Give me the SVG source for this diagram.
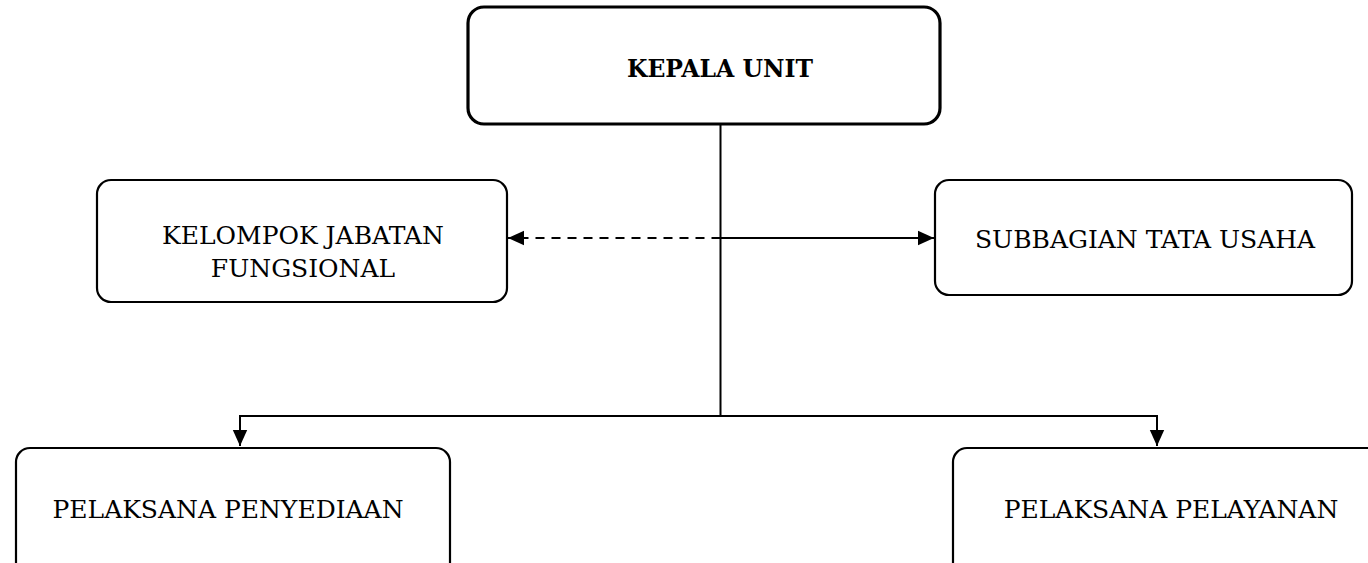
<svg xmlns="http://www.w3.org/2000/svg" width="1368" height="563" viewBox="0 0 1368 563">
<style>
.box{fill:#fff;stroke:#000;stroke-width:2.2}
.main{stroke-width:3.2}
.t{font-family:"DejaVu Serif","Liberation Serif",serif;font-size:25px;fill:#000;text-anchor:middle}
.b{font-weight:bold;font-size:23.5px}
.ln{fill:none;stroke:#000;stroke-width:2}
.dash{stroke-dasharray:9 7}
</style>
<defs>
<marker id="ah" viewBox="0 0 10 10" refX="10" refY="5" markerWidth="16" markerHeight="16" markerUnits="userSpaceOnUse" orient="auto">
<path d="M0,0.5 L10,5 L0,9.5 Z" fill="#000"/>
</marker>
</defs>
<g id="connectors">
<line class="ln" x1="720.5" y1="125" x2="720.5" y2="416"/>
<polyline class="ln" points="240,446 240,416 1157,416 1157,446" marker-end="url(#ah)"/>
<line class="ln" x1="240" y1="416" x2="240" y2="446" marker-end="url(#ah)"/>
<line class="ln" x1="720.5" y1="238" x2="934" y2="238" marker-end="url(#ah)"/>
<line class="ln dash" x1="720.5" y1="238" x2="508" y2="238" marker-end="url(#ah)"/>
</g>
<g id="kepala">
<rect class="box main" x="468" y="7" width="472" height="117" rx="16"/>
<text class="t b" x="720" y="77">KEPALA UNIT</text>
</g>
<g id="kelompok">
<rect class="box" x="97" y="180" width="410" height="122" rx="14"/>
<text class="t" x="303" y="244">KELOMPOK JABATAN</text>
<text class="t" x="303" y="277">FUNGSIONAL</text>
</g>
<g id="subbagian">
<rect class="box" x="935" y="180" width="417" height="115" rx="14"/>
<text class="t" x="1145" y="248">SUBBAGIAN TATA USAHA</text>
</g>
<g id="penyediaan">
<rect class="box" x="16" y="448" width="434" height="130" rx="14"/>
<text class="t" x="228" y="518">PELAKSANA PENYEDIAAN</text>
</g>
<g id="pelayanan">
<rect class="box" x="953" y="448" width="440" height="130" rx="14"/>
<text class="t" x="1171" y="518">PELAKSANA PELAYANAN</text>
</g>
</svg>
